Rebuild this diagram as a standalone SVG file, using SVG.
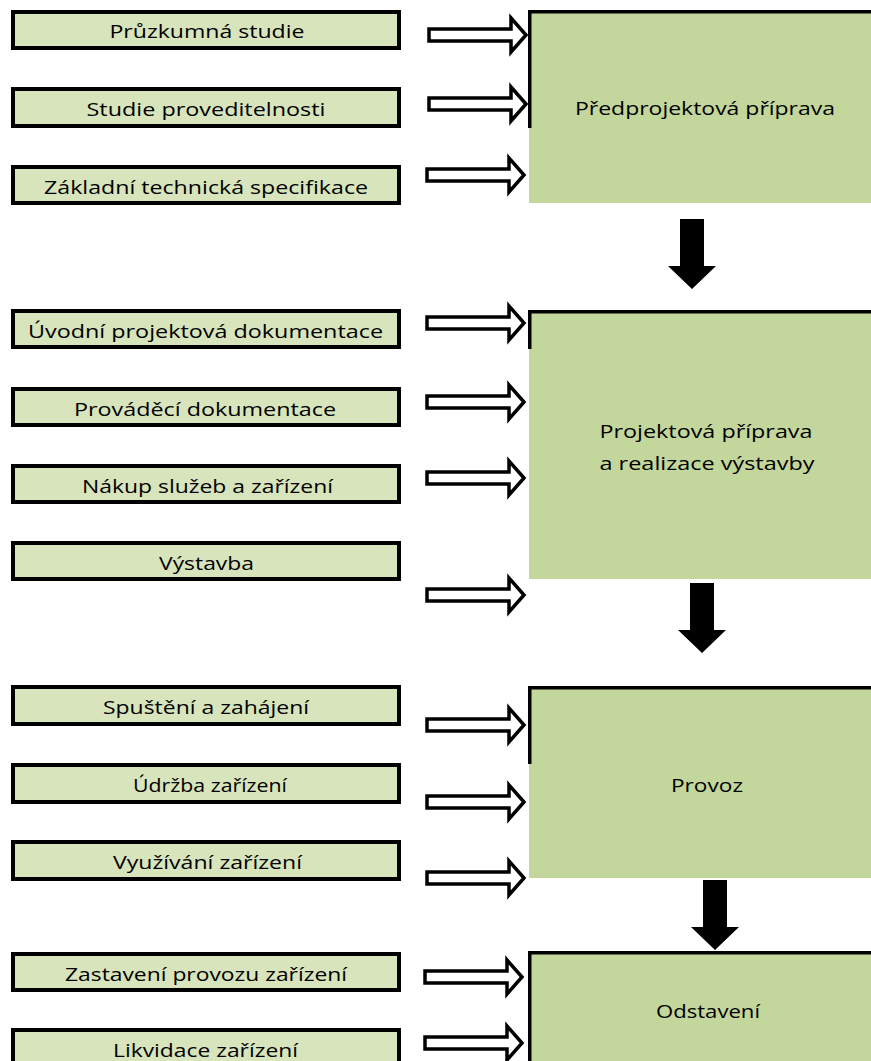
<svg xmlns="http://www.w3.org/2000/svg" xmlns:xlink="http://www.w3.org/1999/xlink" width="871" height="1061" viewBox="0 0 871 1061">
<style>
.sb{fill:#d8e4bc;stroke:#000;stroke-width:4}
.bb{fill:#c3d69b}
.bd{fill:none;stroke:#000;stroke-width:3.5}
.t{font-family:"Open Sans","Noto Sans",sans-serif;font-size:19px;fill:#000;text-anchor:middle}
.ha{fill:#fff;stroke:#000;stroke-width:3.5;stroke-linejoin:miter;stroke-miterlimit:10}
.da{fill:#000}
</style>
<defs>
<path id="harrow" class="ha" d="M-97,-6 H-15 V-17 L0,0 L-15,17 V6 H-97 Z"/>
<path id="darrow" class="da" d="M-12,-70 H12 V-23 H24 L0,0 L-24,-23 H-12 Z"/>
</defs>
<rect width="871" height="1061" fill="#fff"/>

<g id="phase1">
<rect class="bb" x="529" y="10" width="342" height="193"/>
<path class="bd" d="M529.75,128 V11.75 H871"/>
<text class="t" x="705" y="115" textLength="260" lengthAdjust="spacingAndGlyphs">Předprojektová příprava</text>
</g>
<g id="phase2">
<rect class="bb" x="529" y="310" width="342" height="269"/>
<path class="bd" d="M529.75,349 V311.75 H871"/>
<text class="t" x="706" y="438" textLength="213" lengthAdjust="spacingAndGlyphs">Projektová příprava</text>
<text class="t" x="707" y="470" textLength="215" lengthAdjust="spacingAndGlyphs">a realizace výstavby</text>
</g>
<g id="phase3">
<rect class="bb" x="529" y="686" width="342" height="192"/>
<path class="bd" d="M529.75,764 V687.75 H871"/>
<text class="t" x="707" y="792" textLength="72" lengthAdjust="spacingAndGlyphs">Provoz</text>
</g>
<g id="phase4">
<rect class="bb" x="529" y="951" width="342" height="115"/>
<path class="bd" d="M529.75,1066 V952.75 H871"/>
<text class="t" x="708" y="1018" textLength="104" lengthAdjust="spacingAndGlyphs">Odstavení</text>
</g>

<g id="s1"><rect class="sb" x="13" y="12" width="386" height="36"/><text class="t" x="207" y="38" textLength="195" lengthAdjust="spacingAndGlyphs">Průzkumná studie</text></g>
<g id="s2"><rect class="sb" x="13" y="89" width="386" height="37"/><text class="t" x="206" y="116" textLength="239" lengthAdjust="spacingAndGlyphs">Studie proveditelnosti</text></g>
<g id="s3"><rect class="sb" x="13" y="167" width="386" height="36"/><text class="t" x="206" y="194" textLength="324" lengthAdjust="spacingAndGlyphs">Základní technická specifikace</text></g>
<g id="s4"><rect class="sb" x="13" y="311" width="386" height="36"/><text class="t" x="205.5" y="338" textLength="355" lengthAdjust="spacingAndGlyphs">Úvodní projektová dokumentace</text></g>
<g id="s5"><rect class="sb" x="13" y="389" width="386" height="36"/><text class="t" x="205" y="416" textLength="262" lengthAdjust="spacingAndGlyphs">Prováděcí dokumentace</text></g>
<g id="s6"><rect class="sb" x="13" y="466" width="386" height="36"/><text class="t" x="207.5" y="493" textLength="251" lengthAdjust="spacingAndGlyphs">Nákup služeb a zařízení</text></g>
<g id="s7"><rect class="sb" x="13" y="543" width="386" height="36"/><text class="t" x="206.5" y="570" textLength="95" lengthAdjust="spacingAndGlyphs">Výstavba</text></g>
<g id="s8"><rect class="sb" x="13" y="687" width="386" height="37"/><text class="t" x="206" y="714" textLength="206" lengthAdjust="spacingAndGlyphs">Spuštění a zahájení</text></g>
<g id="s9"><rect class="sb" x="13" y="765" width="386" height="37"/><text class="t" x="210" y="792" textLength="154" lengthAdjust="spacingAndGlyphs">Údržba zařízení</text></g>
<g id="s10"><rect class="sb" x="13" y="842" width="386" height="37"/><text class="t" x="207.5" y="869" textLength="189" lengthAdjust="spacingAndGlyphs">Využívání zařízení</text></g>
<g id="s11"><rect class="sb" x="13" y="954" width="386" height="36"/><text class="t" x="206" y="981" textLength="282" lengthAdjust="spacingAndGlyphs">Zastavení provozu zařízení</text></g>
<g id="s12"><rect class="sb" x="13" y="1030" width="386" height="40"/><text class="t" x="205.5" y="1057" textLength="185" lengthAdjust="spacingAndGlyphs">Likvidace zařízení</text></g>

<g id="connectors">
<use xlink:href="#harrow" href="#harrow" transform="translate(526,35)"/>
<use xlink:href="#harrow" href="#harrow" transform="translate(526,104)"/>
<use xlink:href="#harrow" href="#harrow" transform="translate(524,175)"/>
<use xlink:href="#harrow" href="#harrow" transform="translate(524,323)"/>
<use xlink:href="#harrow" href="#harrow" transform="translate(524,402)"/>
<use xlink:href="#harrow" href="#harrow" transform="translate(524,478)"/>
<use xlink:href="#harrow" href="#harrow" transform="translate(524,595)"/>
<use xlink:href="#harrow" href="#harrow" transform="translate(524,725)"/>
<use xlink:href="#harrow" href="#harrow" transform="translate(524,802)"/>
<use xlink:href="#harrow" href="#harrow" transform="translate(524,878)"/>
<use xlink:href="#harrow" href="#harrow" transform="translate(522,977)"/>
<use xlink:href="#harrow" href="#harrow" transform="translate(522,1043)"/>
<use xlink:href="#darrow" href="#darrow" transform="translate(692,289)"/>
<use xlink:href="#darrow" href="#darrow" transform="translate(702,653)"/>
<use xlink:href="#darrow" href="#darrow" transform="translate(715,950)"/>
</g>
</svg>
